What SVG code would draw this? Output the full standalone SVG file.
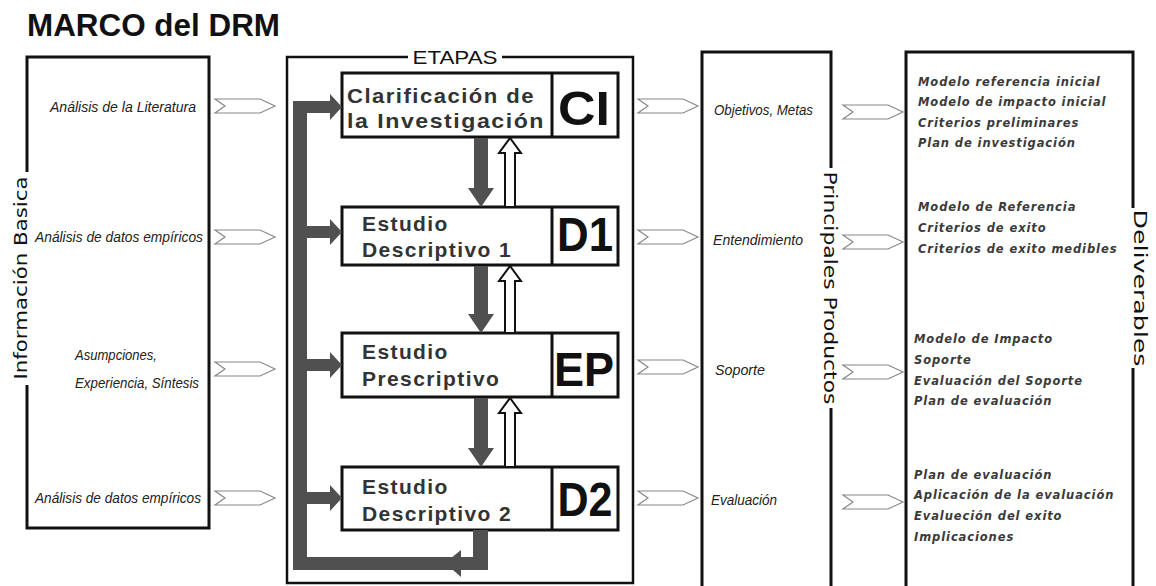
<svg xmlns="http://www.w3.org/2000/svg" width="1156" height="586" viewBox="0 0 1156 586">
<style>
.frame{fill:none;stroke:#111;stroke-width:3}
.stage{fill:#fff;stroke:#111;stroke-width:3}
.lbl{font-family:"Liberation Sans",Arial,sans-serif;font-style:italic;font-size:14px;fill:#222}
.del{font-family:"DejaVu Sans",Verdana,sans-serif;font-style:oblique;font-weight:bold;font-size:11.5px;letter-spacing:0.9px;fill:#3a3a3a}
.side{font-family:"DejaVu Sans",Verdana,sans-serif;font-size:18px;fill:#111}
.st{font-family:"Liberation Sans",Arial,sans-serif;font-weight:bold;font-size:21px;letter-spacing:1.4px;fill:#333}
.code{font-family:"Liberation Sans",Arial,sans-serif;font-weight:bold;font-size:48px;fill:#111}
.chev{fill:#fff;stroke:#888;stroke-width:1.2}
.gray{fill:#505050}
.hollow{fill:#fff;stroke:#111;stroke-width:2}
</style>
<defs>
<path id="chev" d="M0,-7 L45,-7 L60,0 L45,7 L0,7 L10,0 Z"/>
</defs>
<text x="27" y="36" font-family="Liberation Sans,Arial,sans-serif" font-weight="bold" font-size="31" fill="#111" textLength="253" lengthAdjust="spacingAndGlyphs">MARCO del DRM</text>

<g id="informacion-basica">
<path class="frame" d="M27,172 V57 H209 V528 H27 V385"/>
<text class="side" transform="translate(20,278) rotate(-90)" text-anchor="middle" dominant-baseline="central" textLength="203" lengthAdjust="spacingAndGlyphs">Información Basica</text>
<text class="lbl" x="50" y="112" textLength="146" lengthAdjust="spacingAndGlyphs">Análisis de la Literatura</text>
<text class="lbl" x="35" y="242" textLength="168" lengthAdjust="spacingAndGlyphs">Análisis de datos empíricos</text>
<text class="lbl" x="75" y="360" textLength="82" lengthAdjust="spacingAndGlyphs">Asumpciones,</text>
<text class="lbl" x="75" y="388" textLength="124" lengthAdjust="spacingAndGlyphs">Experiencia, Síntesis</text>
<text class="lbl" x="35" y="503" textLength="166" lengthAdjust="spacingAndGlyphs">Análisis de datos empíricos</text>
</g>

<g id="etapas">
<path d="M408,57 H287 V583 H633 V57 H502" fill="none" stroke="#111" stroke-width="2.5"/>
<text x="455" y="64" text-anchor="middle" font-family="Liberation Sans,Arial,sans-serif" font-size="18" fill="#111" textLength="85" lengthAdjust="spacingAndGlyphs">ETAPAS</text>
</g>

<g id="stage-ci">
<rect class="stage" x="342" y="73" width="276" height="64"/>
<line x1="552" y1="73" x2="552" y2="137" stroke="#111" stroke-width="3"/>
<text class="st" x="347" y="103" textLength="188" lengthAdjust="spacingAndGlyphs">Clarificación de</text>
<text class="st" x="347" y="128" textLength="198" lengthAdjust="spacingAndGlyphs">la  Investigación</text>
<text class="code" x="584" y="125" text-anchor="middle" textLength="52" lengthAdjust="spacingAndGlyphs">CI</text>
</g>
<g id="stage-d1">
<rect class="stage" x="342" y="207" width="276" height="58"/>
<line x1="552" y1="207" x2="552" y2="265" stroke="#111" stroke-width="3"/>
<text class="st" x="362" y="231">Estudio</text>
<text class="st" x="362" y="257">Descriptivo 1</text>
<text class="code" x="585" y="251" text-anchor="middle" textLength="56" lengthAdjust="spacingAndGlyphs">D1</text>
</g>
<g id="stage-ep">
<rect class="stage" x="342" y="333" width="276" height="64"/>
<line x1="552" y1="333" x2="552" y2="397" stroke="#111" stroke-width="3"/>
<text class="st" x="362" y="359">Estudio</text>
<text class="st" x="362" y="386">Prescriptivo</text>
<text class="code" x="584" y="386" text-anchor="middle" textLength="60" lengthAdjust="spacingAndGlyphs">EP</text>
</g>
<g id="stage-d2">
<rect class="stage" x="342" y="467" width="276" height="63"/>
<line x1="552" y1="467" x2="552" y2="530" stroke="#111" stroke-width="3"/>
<text class="st" x="362" y="494">Estudio</text>
<text class="st" x="362" y="521">Descriptivo 2</text>
<text class="code" x="585" y="516" text-anchor="middle" textLength="55" lengthAdjust="spacingAndGlyphs">D2</text>
</g>

<g id="principales-productos">
<path class="frame" d="M702,590 V52 H831 V168"/>
<line x1="831" y1="408" x2="831" y2="590" stroke="#111" stroke-width="3"/>
<text class="side" transform="translate(830,288) rotate(90)" text-anchor="middle" dominant-baseline="central" textLength="233" lengthAdjust="spacingAndGlyphs">Principales Productos</text>
<text class="lbl" x="714" y="115" textLength="99" lengthAdjust="spacingAndGlyphs">Objetivos, Metas</text>
<text class="lbl" x="713" y="245" textLength="90" lengthAdjust="spacingAndGlyphs">Entendimiento</text>
<text class="lbl" x="715" y="375" textLength="50" lengthAdjust="spacingAndGlyphs">Soporte</text>
<text class="lbl" x="711" y="505" textLength="66" lengthAdjust="spacingAndGlyphs">Evaluación</text>
</g>

<g id="deliverables">
<path class="frame" d="M906,590 V52 H1133 V208"/>
<line x1="1133" y1="368" x2="1133" y2="590" stroke="#111" stroke-width="3"/>
<text class="side" transform="translate(1140,288) rotate(90)" text-anchor="middle" dominant-baseline="central" textLength="157" lengthAdjust="spacingAndGlyphs">Deliverables</text>
<text class="del" x="918" y="86">Modelo referencia inicial</text>
<text class="del" x="918" y="106">Modelo de impacto inicial</text>
<text class="del" x="918" y="127">Criterios preliminares</text>
<text class="del" x="918" y="147">Plan de investigación</text>
<text class="del" x="918" y="211">Modelo de Referencia</text>
<text class="del" x="918" y="232">Criterios de exito</text>
<text class="del" x="918" y="253">Criterios de exito medibles</text>
<text class="del" x="914" y="343">Modelo de Impacto</text>
<text class="del" x="914" y="364">Soporte</text>
<text class="del" x="914" y="385">Evaluación del Soporte</text>
<text class="del" x="914" y="405">Plan de evaluación</text>
<text class="del" x="914" y="479">Plan de evaluación</text>
<text class="del" x="914" y="499">Aplicación de la evaluación</text>
<text class="del" x="914" y="520">Evalueción del exito</text>
<text class="del" x="914" y="541">Implicaciones</text>
</g>

<g id="connectors">
<use href="#chev" class="chev" x="215" y="106"/>
<use href="#chev" class="chev" x="215" y="237"/>
<use href="#chev" class="chev" x="215" y="369"/>
<use href="#chev" class="chev" x="215" y="498"/>
<use href="#chev" class="chev" x="638" y="106"/>
<use href="#chev" class="chev" x="638" y="237"/>
<use href="#chev" class="chev" x="638" y="367"/>
<use href="#chev" class="chev" x="638" y="498"/>
<use href="#chev" class="chev" x="843" y="112"/>
<use href="#chev" class="chev" x="843" y="242"/>
<use href="#chev" class="chev" x="843" y="372"/>
<use href="#chev" class="chev" x="843" y="502"/>

<path class="gray" d="M473,530 H488 V570 H293 V101 H307 V557 H473 Z"/>
<path class="gray" d="M445,563 L461,550 L461,577 Z"/>
<path class="gray" d="M305,101 H330 V94 L342,107 L330,120 V113 H305 Z"/>
<path class="gray" d="M305,226 H330 V219 L342,232 L330,245 V238 H305 Z"/>
<path class="gray" d="M305,359 H330 V352 L342,365 L330,378 V371 H305 Z"/>
<path class="gray" d="M305,492 H330 V485 L342,498 L330,511 V504 H305 Z"/>
<path class="gray" d="M474,138 H488 V188 H494 L481,207 L468,188 H474 Z"/>
<path class="gray" d="M474,266 H488 V314 H494 L481,333 L468,314 H474 Z"/>
<path class="gray" d="M474,398 H488 V448 H494 L481,467 L468,448 H474 Z"/>
<path class="hollow" d="M505,207 V153 H499 L510,138 L521,153 H515 V207 Z"/>
<path class="hollow" d="M505,333 V281 H499 L510,266 L521,281 H515 V333 Z"/>
<path class="hollow" d="M505,467 V413 H499 L510,398 L521,413 H515 V467 Z"/>
</g>
</svg>
